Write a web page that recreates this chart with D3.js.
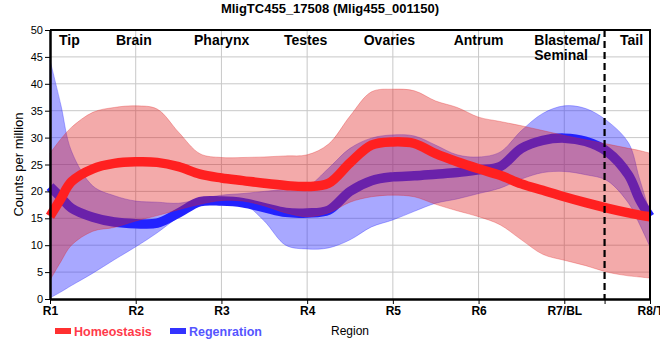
<!DOCTYPE html>
<html>
<head>
<meta charset="utf-8">
<script src="https://cdn.jsdelivr.net/npm/d3@7"></script>
<style>
  body{margin:0;background:#fff;}
  text{font-family:"Liberation Sans",Arial,sans-serif;}
</style>
</head>
<body>
<div id="chart"></div>
<script>
var width=660, height=360;

// region names on the x axis and tissue names along the top
var regions=["R1","R2","R3","R4","R5","R6","R7/BL","R8/T"];
var tissues=["Tip","Brain","Pharynx","Testes","Ovaries","Antrum","Blastema/|Seminal","Tail"];
var tissueAt=[0.105,0.77,1.68,2.73,3.66,4.71,5.65,6.65];
var yTicks=[0,5,10,15,20,25,30,35,40,45,50];

// sample positions along the body (R1 = 0 ... R8 = 7)
var pos=[0,0.125,0.25,0.5,0.75,1,1.25,1.5,1.75,2,2.25,2.5,2.75,3,3.25,3.5,3.75,4,4.25,4.5,4.75,5,5.25,5.5,5.75,6,6.25,6.5,6.75,6.875,7];

// Homeostasis: mean + band
var homMean=[15.4,18.6,21.8,24.2,25.2,25.5,25.4,24.6,23.2,22.5,22.0,21.5,21.1,20.9,21.5,25.3,28.6,29.2,28.9,27.0,25.5,24.2,23.0,21.4,20.2,19.0,17.9,16.9,16.0,15.6,15.3];
var homHi=[27.1,29.7,31.9,34.7,35.6,35.9,35.3,31.0,27.0,26.3,26.3,26.4,26.6,26.8,28.8,34.0,38.5,39.0,38.7,36.8,35.6,33.8,33.0,32.2,31.3,30.4,29.6,28.8,28.0,27.6,27.1];
var homLo=[3.5,6.9,10.0,12.6,13.3,14.5,15.5,16.6,17.6,18.3,18.2,17.3,16.0,15.3,16.0,18.0,19.0,19.3,19.0,17.6,16.4,15.3,13.8,11.0,8.3,7.2,6.2,5.0,4.3,4.1,3.9];

// Regeneration: mean + band
var regMean=[20.9,18.9,16.9,15.2,14.3,14.0,14.1,16.0,18.1,18.2,17.9,17.0,16.1,16.0,16.5,20.0,22.0,22.7,22.9,23.2,23.5,24.0,24.6,28.0,29.5,29.9,29.3,27.4,23.0,18.6,15.3];
var regHi=[44.4,36.2,27.5,21.0,19.2,18.2,18.0,17.8,18.6,19.3,19.6,20.0,20.4,20.9,24.3,28.0,29.9,30.5,30.3,28.6,26.8,26.4,27.3,31.3,34.5,35.9,35.4,33.1,29.0,22.5,16.0];
var regLo=[0.2,1.3,2.5,4.8,7.3,9.7,12.3,15.3,17.9,18.4,17.8,14.5,10.0,9.3,9.5,11.0,13.4,14.7,16.3,17.8,18.6,19.6,20.6,22.3,23.5,23.7,23.1,22.0,17.8,14.0,9.7];

var svg=d3.select("#chart").append("svg")
  .attr("width",width)
  .attr("height",height);

var x=d3.scaleLinear().domain([0,7]).range([50,650]);
var y=d3.scaleLinear().domain([0,50]).range([299,30]);

// grid
svg.append("g").selectAll("line").data(yTicks.slice(1,-1)).enter().append("line")
  .attr("x1",x(0)).attr("x2",x(7))
  .attr("y1",function(d){return y(d);}).attr("y2",function(d){return y(d);})
  .attr("stroke","#c8c8c8").attr("stroke-width",1);
svg.append("g").selectAll("line").data(d3.range(1,7)).enter().append("line")
  .attr("x1",function(d){return x(d);}).attr("x2",function(d){return x(d);})
  .attr("y1",y(0)).attr("y2",y(50))
  .attr("stroke","#c8c8c8").attr("stroke-width",1);

function series(lo,mean,hi){
  return pos.map(function(p,i){return {p:p,lo:lo[i],m:mean[i],hi:hi[i]};});
}
var homData=series(homLo,homMean,homHi);
var regData=series(regLo,regMean,regHi);

var curve=d3.curveCatmullRom.alpha(0.5);
var band=d3.area().curve(curve)
  .x(function(d){return x(d.p);})
  .y0(function(d){return y(d.lo);})
  .y1(function(d){return y(d.hi);});
var line=d3.line().curve(curve)
  .x(function(d){return x(d.p);})
  .y(function(d){return y(d.m);});

// regeneration first, homeostasis on top
svg.append("path").datum(regData).attr("d",band)
  .attr("fill","#3030ff").attr("fill-opacity",0.42)
  .attr("stroke","#3030ff").attr("stroke-opacity",0.35).attr("stroke-width",1);
svg.append("path").datum(regData).attr("d",line)
  .attr("fill","none").attr("stroke","#2222ff").attr("stroke-width",9.5);
svg.append("path").datum(homData).attr("d",band)
  .attr("fill","#e02020").attr("fill-opacity",0.38)
  .attr("stroke","#e02020").attr("stroke-opacity",0.3).attr("stroke-width",1);
svg.append("path").datum(homData).attr("d",line)
  .attr("fill","none").attr("stroke","#ff2020").attr("stroke-width",9.5);

// dashed divider between blastema and tail
svg.append("line")
  .attr("x1",x(6.47)).attr("x2",x(6.47))
  .attr("y1",y(50)).attr("y2",y(0))
  .attr("stroke","#000").attr("stroke-width",2.2)
  .attr("stroke-dasharray","7,4");

// axes
var yAxis=svg.append("g").attr("transform","translate("+x(0)+",0)")
  .call(d3.axisLeft(y).tickValues(yTicks).tickSize(5).tickSizeOuter(0).tickPadding(2));
yAxis.select(".domain").attr("stroke-width",2.5);
yAxis.selectAll("text").attr("font-size","11px").attr("fill","#000")
  .style("font-family","'Liberation Sans',Arial,sans-serif");

var xAxis=svg.append("g").attr("transform","translate(0,"+y(0)+")")
  .call(d3.axisBottom(x).tickValues([0,1,2,3,4,5,6,6.47,7])
    .tickFormat(function(d){return Number.isInteger(d)?regions[d]:"";})
    .tickSize(5).tickSizeOuter(0).tickPadding(2));
xAxis.select(".domain").attr("stroke-width",2.5);
xAxis.selectAll("text").attr("font-size","12px").attr("font-weight","bold").attr("fill","#000")
  .style("font-family","'Liberation Sans',Arial,sans-serif");

// frame top / right
svg.append("path")
  .attr("d","M"+x(0)+","+y(50)+"H"+x(7)+"V"+y(0))
  .attr("fill","none").attr("stroke","#000").attr("stroke-width",2);

// tissue labels
var tl=svg.append("g").selectAll("text").data(tissues).enter().append("text")
  .attr("x",function(d,i){return x(tissueAt[i]);})
  .attr("y",45)
  .attr("font-size","14px").attr("font-weight","bold").attr("fill","#000");
tl.each(function(d){
  var t=d3.select(this);
  d.split("|").forEach(function(s,j){
    t.append("tspan").attr("x",t.attr("x")).attr("dy",j?"1.05em":0).text(s);
  });
});

// title
svg.append("text").attr("x",width/2).attr("y",13)
  .attr("text-anchor","middle").attr("font-size","13px").attr("font-weight","bold")
  .text("MligTC455_17508 (Mlig455_001150)");

// y title
svg.append("text")
  .attr("transform","translate(23,"+((y(0)+y(50))/2)+") rotate(-90)")
  .attr("text-anchor","middle").attr("font-size","13px")
  .text("Counts per million");

// x title
svg.append("text").attr("x",(x(0)+x(7))/2).attr("y",335)
  .attr("text-anchor","middle").attr("font-size","12px")
  .text("Region");

// legend
var dataLegend=[{name:"Homeostasis",box:"#ff3030",txt:"#ff3a4a",x:55},{name:"Regenration",box:"#3333ff",txt:"#5555ff",x:170}];
var lg=svg.append("g").selectAll("g").data(dataLegend).enter().append("g")
  .attr("transform",function(d){return "translate("+d.x+",328)";});
lg.append("rect").attr("width",16).attr("height",6).attr("fill",function(d){return d.box;});
lg.append("text").attr("x",19).attr("y",7.5)
  .attr("font-size","12.5px").attr("font-weight","bold")
  .attr("fill",function(d){return d.txt;})
  .text(function(d){return d.name;});
</script>
</body>
</html>
